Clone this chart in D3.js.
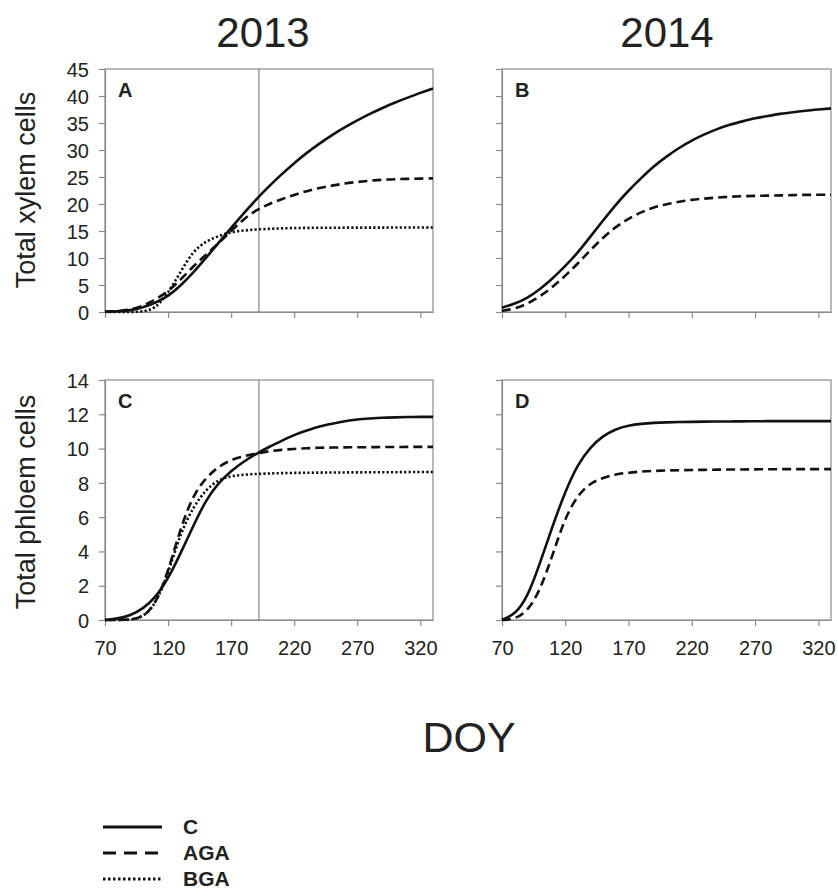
<!DOCTYPE html>
<html><head><meta charset="utf-8">
<script src="https://cdn.jsdelivr.net/npm/d3@7"></script>
<style>
body{margin:0;background:#fff;}
svg text{font-family:Arial,"Liberation Sans",sans-serif;fill:#222;}
</style></head>
<body><svg id="c" width="838" height="889"></svg>
<script>
// DOY sample points (every 10 days)
const doy = [70,80,90,100,110,120,130,140,150,160,170,180,190,200,210,220,230,240,250,260,270,280,290,300,310,320,330];
// 2013 xylem (panel A)
const xylem2013_C   = [0.05,0.12,0.3,0.8,1.7,2.9,4.9,7.3,10.0,12.8,15.6,18.3,20.9,23.3,25.5,27.6,29.5,31.2,32.8,34.2,35.5,36.7,37.8,38.8,39.7,40.6,41.4];
const xylem2013_AGA = [0.05,0.15,0.4,1.1,2.3,3.8,6.0,8.5,10.6,12.7,15.0,17.2,18.9,20.0,20.9,21.7,22.4,23.0,23.4,23.8,24.1,24.3,24.5,24.6,24.65,24.7,24.75];
const xylem2013_BGA = [0,0,0.02,0.05,0.6,3.5,7.5,11.3,13.1,14.1,14.8,15.1,15.3,15.4,15.5,15.55,15.58,15.6,15.6,15.62,15.62,15.63,15.63,15.64,15.64,15.65,15.65];
// 2014 xylem (panel B)
const xylem2014_C   = [0.8,1.5,2.6,4.2,6.2,8.5,11.0,14.0,17.0,19.9,22.5,24.8,27.0,28.8,30.4,31.8,32.9,33.9,34.7,35.3,35.9,36.3,36.7,37.0,37.3,37.5,37.7];
const xylem2014_AGA = [0.2,0.6,1.5,2.9,4.6,6.7,9.0,11.5,13.8,15.8,17.3,18.5,19.4,20.0,20.4,20.8,21.0,21.2,21.35,21.45,21.5,21.55,21.6,21.65,21.7,21.7,21.7];
// 2013 phloem (panel C)
const phloem2013_C   = [0,0.08,0.25,0.65,1.3,2.4,3.9,5.5,7.0,8.0,8.7,9.25,9.7,10.1,10.45,10.8,11.05,11.3,11.45,11.6,11.7,11.75,11.8,11.82,11.84,11.85,11.85];
const phloem2013_AGA = [0,0,0.02,0.15,0.9,2.8,5.4,7.3,8.3,8.95,9.35,9.55,9.72,9.85,9.93,9.98,10.02,10.05,10.06,10.07,10.08,10.08,10.09,10.09,10.1,10.1,10.1];
const phloem2013_BGA = [0,0,0.02,0.15,0.9,2.7,5.1,6.6,7.6,8.2,8.4,8.48,8.52,8.55,8.57,8.58,8.59,8.6,8.6,8.61,8.61,8.62,8.62,8.62,8.63,8.63,8.63];
// 2014 phloem (panel D)
const phloem2014_C   = [0.02,0.3,1.3,3.3,5.5,7.5,9.1,10.1,10.75,11.15,11.35,11.45,11.5,11.53,11.55,11.56,11.57,11.58,11.58,11.59,11.59,11.6,11.6,11.6,11.6,11.6,11.6];
const phloem2014_AGA = [0,0.05,0.5,1.7,3.8,6.0,7.3,8.0,8.3,8.5,8.6,8.66,8.7,8.72,8.74,8.75,8.76,8.77,8.78,8.78,8.79,8.79,8.8,8.8,8.8,8.8,8.8];

const xTicks = [70,120,170,220,270,320];
const xylemTicks = [0,5,10,15,20,25,30,35,40,45];
const phloemTicks = [0,2,4,6,8,10,12,14];
const marker2013 = 192;
const yearTitles = ["2013","2014"];
const seriesNames = ["C","AGA","BGA"];

const styles = {C:null, AGA:"9,5", BGA:"2.2,2.2"};
const svg = d3.select("#c");

const panels = [
  {letter:"A", x0:105, x1:433, y0:69, y1:312, ymax:45, ticks:xylemTicks, labels:true, xlab:false, series:{C:xylem2013_C,AGA:xylem2013_AGA,BGA:xylem2013_BGA}, marker:marker2013},
  {letter:"B", x0:502, x1:831, y0:69, y1:312, ymax:45, ticks:xylemTicks, labels:false, xlab:false, series:{C:xylem2014_C,AGA:xylem2014_AGA}},
  {letter:"C", x0:105, x1:433, y0:380, y1:620, ymax:14, ticks:phloemTicks, labels:true, xlab:true, series:{C:phloem2013_C,AGA:phloem2013_AGA,BGA:phloem2013_BGA}, marker:marker2013},
  {letter:"D", x0:502, x1:831, y0:380, y1:620, ymax:14, ticks:phloemTicks, labels:false, xlab:true, series:{C:phloem2014_C,AGA:phloem2014_AGA}}
];

panels.forEach(p=>{
  const x = d3.scaleLinear().domain([70,330]).range([p.x0,p.x1]);
  const y = d3.scaleLinear().domain([0,p.ymax]).range([p.y1,p.y0]);
  const g = svg.append("g");
  g.append("rect").attr("x",p.x0).attr("y",p.y0).attr("width",p.x1-p.x0).attr("height",p.y1-p.y0)
    .attr("fill","none").attr("stroke","#8a8a8a").attr("stroke-width",1.2);
  const xa = g.append("g").attr("transform",`translate(0,${p.y1})`)
    .call(d3.axisBottom(x).tickValues(xTicks).tickSize(6).tickSizeOuter(0).tickFormat(p.xlab?d3.format("d"):""));
  xa.select(".domain").attr("stroke","#8a8a8a").attr("stroke-width",1.2);
  xa.selectAll(".tick line").attr("stroke","#8a8a8a").attr("stroke-width",1.2);
  xa.selectAll(".tick text").attr("font-size",20).attr("dy",0).attr("y",35).style("fill","#222");
  const ya = g.append("g").attr("transform",`translate(${p.x0},0)`)
    .call(d3.axisLeft(y).tickValues(p.ticks).tickSize(6).tickSizeOuter(0).tickFormat(p.labels?d3.format("d"):""));
  ya.select(".domain").attr("stroke","#8a8a8a").attr("stroke-width",1.2);
  ya.selectAll(".tick line").attr("stroke","#8a8a8a").attr("stroke-width",1.2);
  ya.selectAll(".tick text").attr("font-size",20).attr("x",-16).attr("dy","0.36em").style("fill","#222");
  ya.selectAll("text").attr("font-family",null); xa.selectAll("text").attr("font-family",null);
  if(p.marker){
    g.append("line").attr("x1",x(p.marker)).attr("x2",x(p.marker)).attr("y1",p.y0).attr("y2",p.y1)
      .attr("stroke","#777").attr("stroke-width",1.1);
  }
  const line = d3.line().x((d,i)=>x(doy[i])).y(d=>y(d)).curve(d3.curveBasis);
  ["BGA","AGA","C"].forEach(k=>{
    if(!p.series[k]) return;
    g.append("path").datum(p.series[k]).attr("d",line).attr("fill","none")
      .attr("stroke","#111").attr("stroke-width",2.6)
      .attr("stroke-dasharray",styles[k]);
  });
  g.append("text").attr("x",p.x0+13).attr("y",p.y0+28).attr("font-size",20).attr("font-weight","bold").text(p.letter);
});

svg.append("text").attr("x",263).attr("y",47).attr("text-anchor","middle").attr("font-size",42).text(yearTitles[0]);
svg.append("text").attr("x",667).attr("y",47).attr("text-anchor","middle").attr("font-size",42).text(yearTitles[1]);
svg.append("text").attr("x",469).attr("y",752).attr("text-anchor","middle").attr("font-size",43).text("DOY");
svg.append("text").attr("transform","translate(35,190) rotate(-90)").attr("text-anchor","middle").attr("font-size",27).text("Total xylem cells");
svg.append("text").attr("transform","translate(35,502) rotate(-90)").attr("text-anchor","middle").attr("font-size",27).text("Total phloem cells");

const legY = [827,853,879];
seriesNames.forEach((n,i)=>{
  svg.append("line").attr("x1",103).attr("x2",162).attr("y1",legY[i]).attr("y2",legY[i])
    .attr("stroke","#111").attr("stroke-width",3)
    .attr("stroke-dasharray", n==="C"?null:(n==="AGA"?"13,8":"2.5,2.5"));
  svg.append("text").attr("x",183).attr("y",legY[i]+7).attr("font-size",21).attr("font-weight","bold").text(n);
});
</script></body></html>
